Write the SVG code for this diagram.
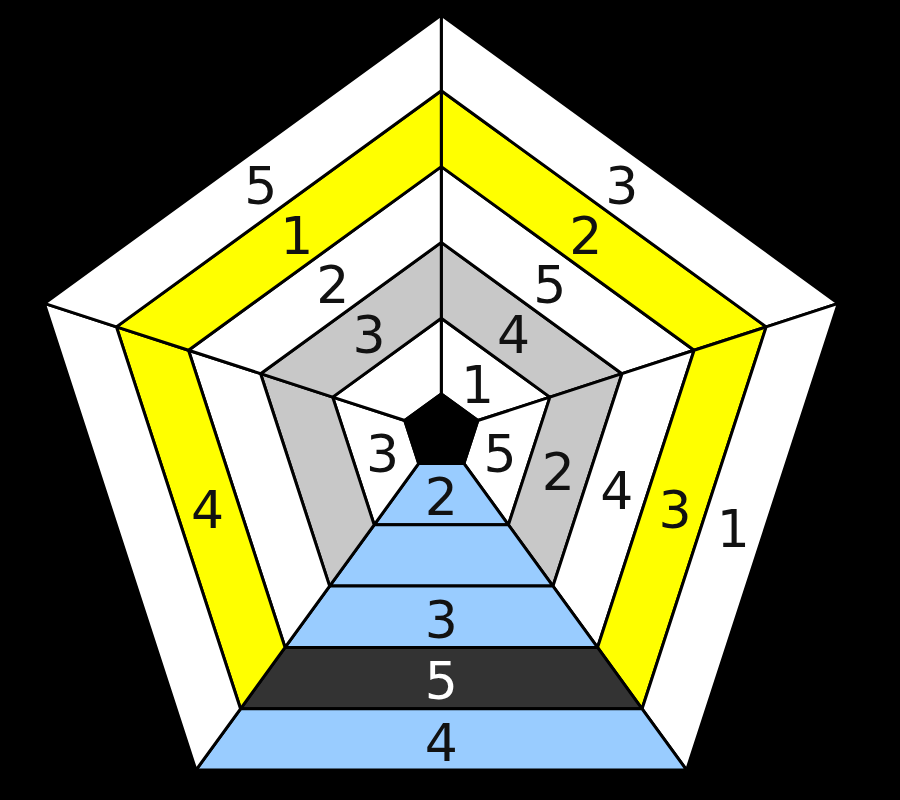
<svg xmlns="http://www.w3.org/2000/svg" width="900" height="800" viewBox="0 0 900 800">
<style>
.c{stroke:#000;stroke-width:3;stroke-linejoin:round}
.w{fill:#fff}.y{fill:#ffff00}.g{fill:#c8c8c8}.b{fill:#99ccff}.d{fill:#333333}
text{font-family:"DejaVu Sans",sans-serif;font-size:52px;text-anchor:middle;fill:#111}
.t{fill:#fff}
</style>
<rect width="900" height="800" fill="#000"/>
<g id="sector-top-right">
<g id="A0"><polygon class="c w" points="441.3,394.0 441.3,318.2 549.91,397.11 477.82,420.53"/><text x="477.6" y="402.5">1</text></g>
<g id="A1"><polygon class="c g" points="441.3,318.2 441.3,242.4 622.00,373.69 549.91,397.11"/><text x="513.6" y="352.9">4</text></g>
<g id="A2"><polygon class="c w" points="441.3,242.4 441.3,166.6 694.09,350.26 622.00,373.69"/><text x="549.7" y="303.2">5</text></g>
<g id="A3"><polygon class="c y" points="441.3,166.6 441.3,90.8 766.18,326.84 694.09,350.26"/><text x="585.7" y="253.6">2</text></g>
<g id="A4"><polygon class="c w" points="441.3,90.8 441.3,15.0 838.27,303.42 766.18,326.84"/><text x="621.8" y="204.0">3</text></g>
</g>
<g id="sector-right">
<g id="B0"><polygon class="c w" points="477.82,420.53 549.91,397.11 508.43,524.79 463.87,463.47"/><text x="500.0" y="471.5">5</text></g>
<g id="B1"><polygon class="c g" points="549.91,397.11 622.00,373.69 552.98,586.11 508.43,524.79"/><text x="558.3" y="490.4">2</text></g>
<g id="B2"><polygon class="c w" points="622.00,373.69 694.09,350.26 597.53,647.44 552.98,586.11"/><text x="616.7" y="509.4">4</text></g>
<g id="B3"><polygon class="c y" points="694.09,350.26 766.18,326.84 642.09,708.76 597.53,647.44"/><text x="675.0" y="528.3">3</text></g>
<g id="B4"><polygon class="c w" points="766.18,326.84 838.27,303.42 686.64,770.08 642.09,708.76"/><text x="733.3" y="547.3">1</text></g>
</g>
<g id="sector-bottom">
<g id="C0"><polygon class="c b" points="463.87,463.47 508.43,524.79 374.17,524.79 418.73,463.47"/><text x="441.3" y="514.5">2</text></g>
<g id="C1"><polygon class="c b" points="508.43,524.79 552.98,586.11 329.62,586.11 374.17,524.79"/></g>
<g id="C2"><polygon class="c b" points="552.98,586.11 597.53,647.44 285.07,647.44 329.62,586.11"/><text x="441.3" y="637.5">3</text></g>
<g id="C3"><polygon class="c d" points="597.53,647.44 642.09,708.76 240.51,708.76 285.07,647.44"/><text class="t" x="441.3" y="699.0">5</text></g>
<g id="C4"><polygon class="c b" points="642.09,708.76 686.64,770.08 195.96,770.08 240.51,708.76"/><text x="441.3" y="760.5">4</text></g>
</g>
<g id="sector-left">
<g id="D0"><polygon class="c w" points="418.73,463.47 374.17,524.79 332.69,397.11 404.78,420.53"/><text x="382.6" y="471.5">3</text></g>
<g id="D1"><polygon class="c g" points="374.17,524.79 329.62,586.11 260.60,373.69 332.69,397.11"/></g>
<g id="D2"><polygon class="c w" points="329.62,586.11 285.07,647.44 188.51,350.26 260.60,373.69"/></g>
<g id="D3"><polygon class="c y" points="285.07,647.44 240.51,708.76 116.42,326.84 188.51,350.26"/><text x="207.6" y="528.3">4</text></g>
<g id="D4"><polygon class="c w" points="240.51,708.76 195.96,770.08 44.33,303.42 116.42,326.84"/></g>
</g>
<g id="sector-top-left">
<g id="E0"><polygon class="c w" points="404.78,420.53 332.69,397.11 441.3,318.2 441.3,394.0"/></g>
<g id="E1"><polygon class="c g" points="332.69,397.11 260.60,373.69 441.3,242.4 441.3,318.2"/><text x="369.0" y="352.9">3</text></g>
<g id="E2"><polygon class="c w" points="260.60,373.69 188.51,350.26 441.3,166.6 441.3,242.4"/><text x="332.9" y="303.2">2</text></g>
<g id="E3"><polygon class="c y" points="188.51,350.26 116.42,326.84 441.3,90.8 441.3,166.6"/><text x="296.9" y="253.6">1</text></g>
<g id="E4"><polygon class="c w" points="116.42,326.84 44.33,303.42 441.3,15.0 441.3,90.8"/><text x="260.8" y="204.0">5</text></g>
</g>
<g id="center"><polygon class="c" fill="#000" points="441.3,394.0 477.82,420.53 463.87,463.47 418.73,463.47 404.78,420.53"/></g>
</svg>
